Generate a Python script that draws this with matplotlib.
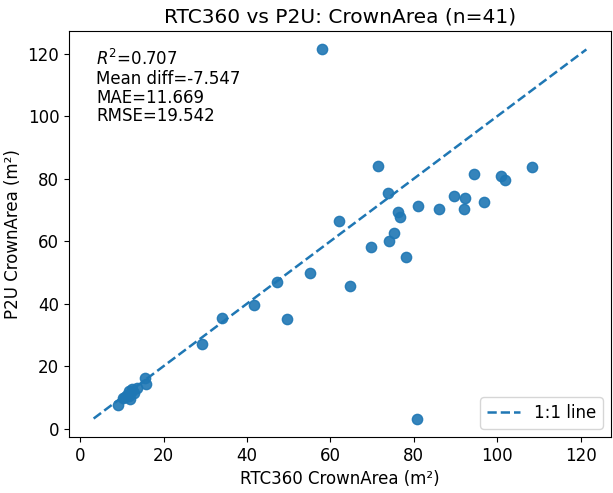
import numpy as np
import matplotlib
matplotlib.use("Agg")
import matplotlib.pyplot as plt

# CrownArea values (m^2)
rtc360 = [58.1, 71.4, 108.3, 94.5, 101.0, 101.8, 73.8, 89.7, 92.2, 96.9,
          80.9, 86.0, 92.1, 76.2, 76.6, 62.1, 75.2, 74.1, 69.8, 78.2,
          55.2, 47.1, 64.7, 41.6, 49.6, 34.0, 29.1, 80.8, 15.6, 15.8,
          9.1, 13.7, 12.3, 12.0, 12.8, 11.2, 10.3, 11.6, 10.8, 12.4, 11.8]
p2u = [121.4, 84.1, 83.8, 81.4, 80.8, 79.6, 75.4, 74.4, 73.9, 72.7,
       71.2, 70.2, 70.4, 69.3, 67.7, 66.4, 62.5, 60.0, 58.0, 55.0,
       49.8, 46.9, 45.5, 39.7, 35.1, 35.5, 27.0, 3.2, 16.1, 14.3,
       7.6, 13.1, 12.7, 9.4, 11.3, 10.8, 9.7, 11.9, 10.2, 12.0, 10.5]

stats_text = "$R^2$=0.707\nMean diff=-7.547\nMAE=11.669\nRMSE=19.542"

plt.rcParams['font.size'] = 12

x = np.array(rtc360)
y = np.array(p2u)

fig, ax = plt.subplots(figsize=(6.13, 4.93), dpi=100)
fig.subplots_adjust(left=69/613, right=611/613, bottom=1-437/493, top=1-31/493)

ax.scatter(x, y, s=55, alpha=0.9)
lo = min(x.min(), y.min())
hi = max(x.max(), y.max())
ax.plot([lo, hi], [lo, hi], '--', linewidth=1.8, label='1:1 line')

ax.set_xlabel('RTC360 CrownArea (m²)')
ax.set_ylabel('P2U CrownArea (m²)')
ax.set_title(f'RTC360 vs P2U: CrownArea (n={len(x)})', fontsize=14.5)
ax.text(0.05, 0.955, stats_text, transform=ax.transAxes, va='top', ha='left',
        linespacing=1.05)
ax.legend(loc='lower right')

fig.savefig('out.png', dpi=100)
